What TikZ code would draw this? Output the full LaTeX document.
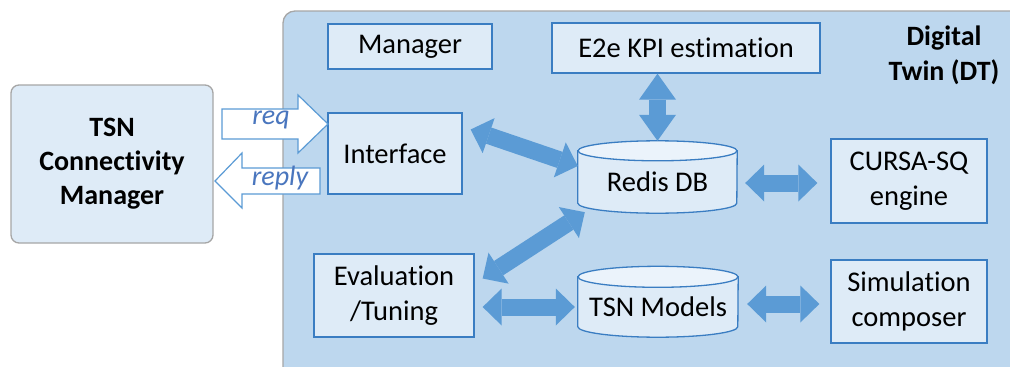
\documentclass[tikz,border=0pt]{standalone}
\usepackage{fontspec}
\setmainfont{Carlito}[Ligatures={NoCommon}]
\usetikzlibrary{arrows.meta,calc}

\definecolor{panelfill}{HTML}{BDD7EE}
\definecolor{boxfill}{HTML}{DEEBF7}
\definecolor{topfill}{HTML}{EBF3FB}
\definecolor{boxline}{HTML}{3A7DC2}
\definecolor{arrowblue}{HTML}{5B9BD5}
\definecolor{greyline}{HTML}{A6A6A6}
\definecolor{labelblue}{HTML}{4A76BE}

\pgfdeclarelayer{panel}
\pgfdeclarelayer{shapes}
\pgfsetlayers{panel,shapes,main}

\tikzset{
  txt/.style={font=\fontsize{28.5}{34.5}\selectfont, align=center, inner sep=0pt},
  box/.style={txt, draw=boxline, fill=boxfill, line width=1.3pt},
  dbnode/.style={txt},
  dbedge/.style={draw=boxline, line width=1.3pt},
  bigarr/.style={draw=arrowblue, line width=17pt,
    {Triangle[length=19pt,width=37pt,line width=0pt]}-{Triangle[length=19pt,width=37pt,line width=0pt]}},
  tallarr/.style={draw=arrowblue, line width=17pt,
    {Triangle[length=26pt,width=37pt,line width=0pt]}-{Triangle[length=26pt,width=37pt,line width=0pt]}},
  hollowarr/.style={draw=arrowblue, fill=white, line width=1.2pt, line join=miter},
  msg/.style={font=\fontsize{28}{34}\selectfont\itshape, text=labelblue, inner sep=0pt}
}

% cylinder outline around a node: #1 node, #2 x radius, #3 y radius
\newcommand\dbdraw[3]{%
  \begin{pgfonlayer}{shapes}
    \path[dbedge, fill=boxfill] (#1.north west) -- ([yshift=#3]#1.south west)
      arc[start angle=180, end angle=360, x radius=#2, y radius=#3]
      -- (#1.north east) -- cycle;
    \path[dbedge, fill=topfill] (#1.north) ellipse[x radius=#2, y radius=#3];
  \end{pgfonlayer}}

\begin{document}
\begin{tikzpicture}[x=1pt, y=-1pt]
\useasboundingbox (0,0) rectangle (1010,367);

% Digital Twin panel
\begin{pgfonlayer}{panel}
  \clip (0,0) rectangle (1010,367);
  \draw[fill=panelfill, draw=greyline, line width=1.3pt, rounded corners=12pt]
    (283,11) rectangle (1040,400);
\end{pgfonlayer}

% external manager
\node[txt, font=\fontsize{28}{34}\selectfont\bfseries, draw=greyline, fill=boxfill,
      line width=1.3pt, rounded corners=8pt, minimum width=202pt, minimum height=158pt]
  (tsn) at (112,164) {TSN\\Connectivity\\Manager};

% DT components
\node[box, minimum width=164pt, minimum height=45pt] (mgr) at (410,46.5) {Manager};
\node[box, minimum width=268pt, minimum height=50pt] (e2e) at (686,48) {E2e KPI estimation};
\node[box, minimum width=134pt, minimum height=81pt] (iface) at (395,153.5) {Interface};
\node[box, minimum width=156pt, minimum height=84pt] (cursa) at (909,181) {CURSA-SQ\\engine};
\node[box, minimum width=160pt, minimum height=83pt] (eval) at (394,295.5) {Evaluation\\/Tuning};
\node[box, minimum width=156pt, minimum height=83pt] (sim) at (909,301.5) {Simulation\\composer};

\node[dbnode, minimum width=159pt, minimum height=62pt] (redis) at (657.5,182) {Redis DB};
\dbdraw{redis}{79.5pt}{10pt}
\node[dbnode, minimum width=160pt, minimum height=60pt] (models) at (658,307) {TSN Models};
\dbdraw{models}{80pt}{10.5pt}

\node[txt, font=\fontsize{28}{35}\selectfont\bfseries] (dtlbl) at (944,55) {Digital\\Twin (DT)};

% request / reply block arrows
\draw[hollowarr] (222,109) -- (298,109) -- (298,95) -- (328,124) -- (298,153)
  -- (298,139) -- (222,139) -- cycle;
\node[msg] (reqlbl) at (271,120) {req};
\draw[hollowarr] (320,168) -- (242,168) -- (242,153) -- (215,181) -- (242,208)
  -- (242,194) -- (320,194) -- cycle;
\node[msg] (replylbl) at (280,178) {reply};

% data exchange arrows
\draw[bigarr] ([shift={(8pt,24pt)}]iface.east) -- ([yshift=16pt]redis.west);
\draw[bigarr] ([shift={(8pt,17pt)}]eval.east) -- ([shift={(7pt,1pt)}]redis.south west);
\draw[bigarr] ($(eval.east |- models.west)+(8,0)$) -- ([xshift=-3pt]models.west);
\draw[bigarr] ([shift={(9pt,3pt)}]models.east) -- ([shift={(-11pt,-2.5pt)}]sim.west);
\draw[bigarr] ([shift={(8pt,-1pt)}]redis.east) -- ([shift={(-13pt,-2pt)}]cursa.west);
\draw[tallarr] (redis.north |- e2e.south) -- ([yshift=10pt]redis.north);
\end{tikzpicture}
\end{document}
